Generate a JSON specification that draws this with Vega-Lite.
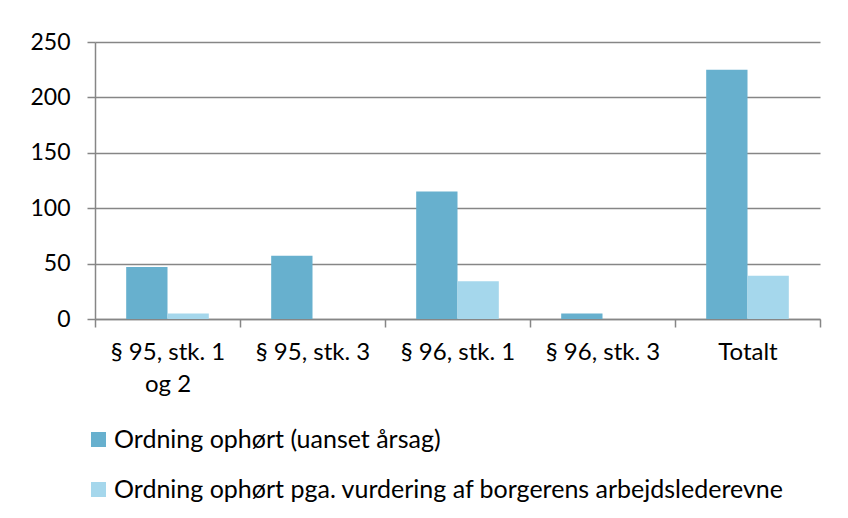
{
  "$schema": "https://vega.github.io/schema/vega-lite/v6.json",
  "width": 725,
  "height": 277,
  "autosize": {"type": "none"},
  "padding": {"left": 95, "top": 42, "right": 28, "bottom": 199},
  "background": "white",
  "config": {
    "view": {"stroke": null},
    "font": "Lato",
    "axis": {"labelFont": "Lato", "labelColor": "#000000", "labelFontSize": 23}
  },
  "data": {
    "values": [
      {"kategori": "§ 95, stk. 1 og 2", "serie": "Ordning ophørt (uanset årsag)", "antal": 47},
      {"kategori": "§ 95, stk. 1 og 2", "serie": "Ordning ophørt pga. vurdering af borgerens arbejdslederevne", "antal": 5},
      {"kategori": "§ 95, stk. 3", "serie": "Ordning ophørt (uanset årsag)", "antal": 57},
      {"kategori": "§ 95, stk. 3", "serie": "Ordning ophørt pga. vurdering af borgerens arbejdslederevne", "antal": 0},
      {"kategori": "§ 96, stk. 1", "serie": "Ordning ophørt (uanset årsag)", "antal": 115},
      {"kategori": "§ 96, stk. 1", "serie": "Ordning ophørt pga. vurdering af borgerens arbejdslederevne", "antal": 34},
      {"kategori": "§ 96, stk. 3", "serie": "Ordning ophørt (uanset årsag)", "antal": 5},
      {"kategori": "§ 96, stk. 3", "serie": "Ordning ophørt pga. vurdering af borgerens arbejdslederevne", "antal": 0},
      {"kategori": "Totalt", "serie": "Ordning ophørt (uanset årsag)", "antal": 225},
      {"kategori": "Totalt", "serie": "Ordning ophørt pga. vurdering af borgerens arbejdslederevne", "antal": 39}
    ]
  },
  "mark": {"type": "bar"},
  "encoding": {
    "x": {
      "field": "kategori",
      "type": "nominal",
      "sort": null,
      "scale": {"paddingInner": 0, "paddingOuter": 0},
      "axis": {
        "title": null,
        "labelAngle": 0,
        "labelFontSize": 24,
        "labelExpr": "datum.label == '§ 95, stk. 1 og 2' ? ['§ 95, stk. 1', 'og 2'] : datum.label",
        "labelLineHeight": 32,
        "labelPadding": 13,
        "labelBaseline": "top",
        "tickBand": "extent",
        "tickSize": 8,
        "tickColor": "#868686",
        "tickWidth": 1.5,
        "domainColor": "#868686",
        "domainWidth": 1.5,
        "grid": false
      }
    },
    "xOffset": {
      "field": "serie",
      "type": "nominal",
      "sort": null,
      "scale": {"paddingInner": 0, "paddingOuter": 0.755}
    },
    "y": {
      "field": "antal",
      "type": "quantitative",
      "scale": {"domain": [0, 250], "nice": false},
      "axis": {
        "title": null,
        "values": [0, 50, 100, 150, 200, 250],
        "tickSize": 8,
        "tickColor": "#868686",
        "tickWidth": 1.5,
        "domainColor": "#868686",
        "domainWidth": 1.5,
        "gridColor": "#868686",
        "gridWidth": 1.5,
        "labelPadding": 17
      }
    },
    "color": {
      "field": "serie",
      "type": "nominal",
      "sort": null,
      "scale": {"range": ["#67B0CE", "#A5D7EC"]},
      "legend": {
        "title": null,
        "orient": "none",
        "direction": "vertical",
        "legendX": -9,
        "legendY": 385,
        "symbolType": "square",
        "symbolSize": 225,
        "symbolStrokeWidth": 0,
        "labelFont": "Lato",
        "labelFontSize": 25,
        "labelColor": "#000000",
        "labelOffset": 3,
        "rowPadding": 24,
        "labelLimit": 800
      }
    }
  }
}
